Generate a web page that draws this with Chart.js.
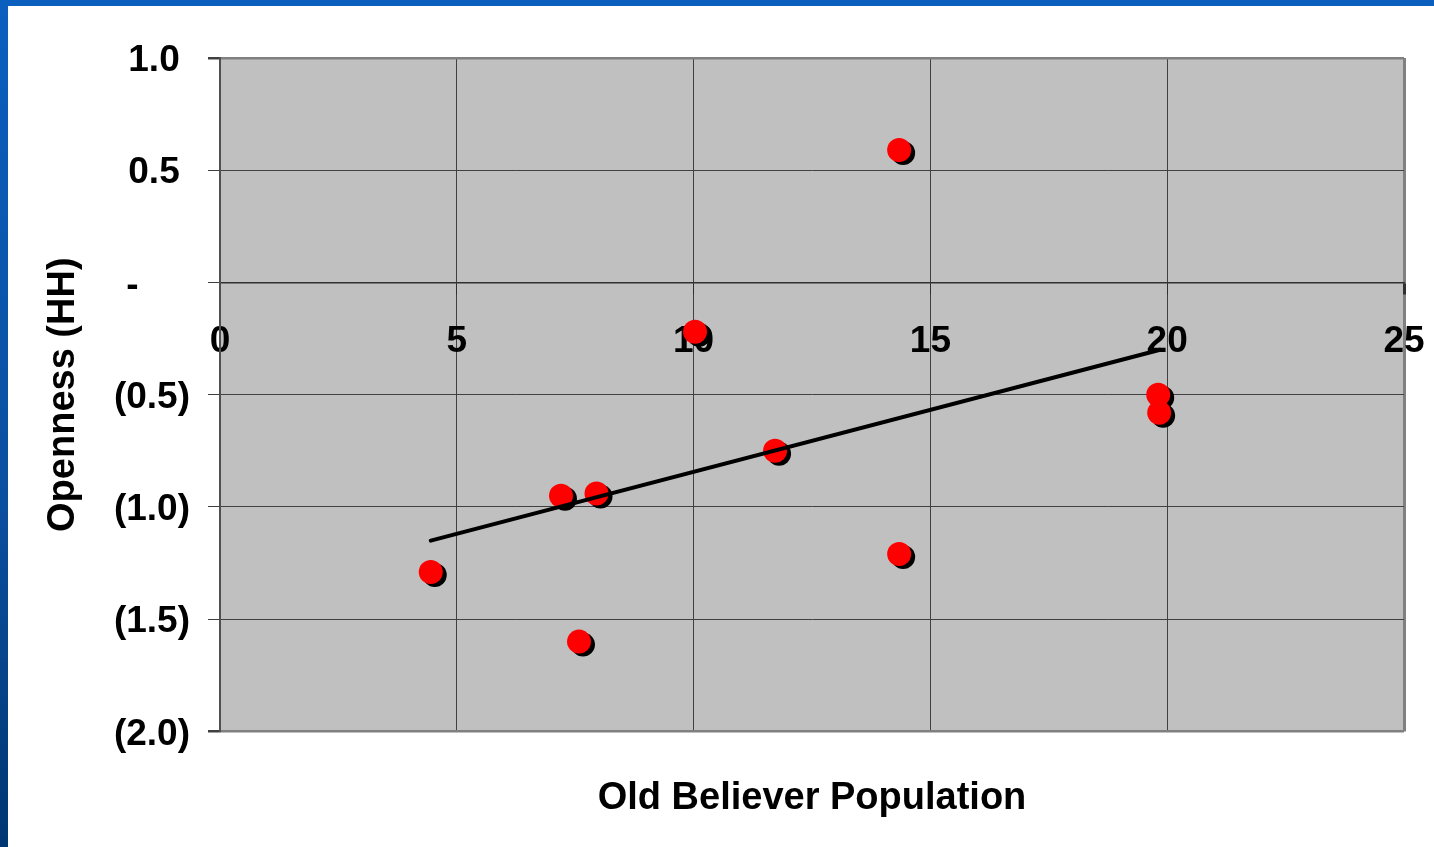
<!DOCTYPE html>
<html>
<head>
<meta charset="utf-8">
<script src="https://cdn.jsdelivr.net/npm/chart.js@4"></script>
<style>
  body { margin: 0; background: #fff; overflow: hidden; }
  #topBar { position: absolute; left: 0; top: 0; width: 1434px; height: 6px; background: #0a5fbf; }
  #leftBar { position: absolute; left: 0; top: 0; width: 8px; height: 847px;
             background: linear-gradient(#0a5fbf, #0b4f9f 60%, #003672); }
  #chart { position: absolute; left: 0; top: 0; }
</style>
</head>
<body>
<div id="topBar"></div>
<div id="leftBar"></div>
<canvas id="chart" width="1434" height="847"></canvas>
<script>
// Old Believer population vs openness
const populationX = [4.45, 7.20, 7.95, 7.58, 10.03, 11.72, 14.34, 14.34, 19.81, 19.83];
const opennessY = [-1.29, -0.95, -0.94, -1.60, -0.22, -0.75, 0.59, -1.21, -0.50, -0.58];

// trend line end points
const trendX = [4.45, 19.85];
const trendY = [-1.15, -0.30];

const xTickLabels = ['0', '5', '10', '15', '20', '25'];
const yTickLabels = ['(2.0)', '(1.5)', '(1.0)', '(0.5)', '-', '0.5', '1.0'];

const xTitle = 'Old Believer Population';
const yTitle = 'Openness (HH)';

const fontFamily = "'Liberation Sans', Arial, sans-serif";
const bold37 = { family: fontFamily, size: 37, weight: 'bold' };
const bold38 = { family: fontFamily, size: 38, weight: 'bold' };

// accounting style labels keep digits lined up with the bracketed ones
function padLabel(label) {
    if (label === '-') return label + '     ';
    if (label.endsWith(')')) return label;
    return label + ' ';
}

// the x axis sits inside the plot, so it should not push the plot edges in
function noSidePadding(scale) {
    scale.paddingLeft = 0;
    scale.paddingRight = 0;
}

// grey plot area
const plotBackground = {
    id: 'plotBackground',
    beforeDraw(chart) {
        const { ctx, chartArea } = chart;
        ctx.save();
        ctx.fillStyle = '#c0c0c0';
        ctx.fillRect(chartArea.left, chartArea.top, chartArea.right - chartArea.left, chartArea.bottom - chartArea.top);
        ctx.restore();
    }
};

// black drop shadow under the red markers
const markerShadow = {
    id: 'markerShadow',
    beforeDatasetDraw(chart, args) {
        if (chart.data.datasets[args.index].label !== 'points') return;
        const ctx = chart.ctx;
        ctx.save();
        ctx.shadowColor = '#000';
        ctx.shadowBlur = 0;
        ctx.shadowOffsetX = 4;
        ctx.shadowOffsetY = 3;
    },
    afterDatasetDraw(chart, args) {
        if (chart.data.datasets[args.index].label !== 'points') return;
        chart.ctx.restore();
    }
};

const pointData = populationX.map((x, i) => ({ x: x, y: opennessY[i] }));
const trendData = trendX.map((x, i) => ({ x: x, y: trendY[i] }));

new Chart(document.getElementById('chart'), {
    type: 'scatter',
    data: {
        datasets: [
            {
                label: 'trend',
                data: trendData,
                showLine: true,
                borderColor: '#000',
                borderWidth: 4,
                borderCapStyle: 'round',
                pointRadius: 0,
                order: 0,
                xAxisID: 'x',
                yAxisID: 'y'
            },
            {
                label: 'points',
                data: pointData,
                backgroundColor: '#ff0000',
                borderWidth: 0,
                pointRadius: 12,
                order: 1,
                xAxisID: 'x',
                yAxisID: 'y'
            }
        ]
    },
    options: {
        responsive: false,
        devicePixelRatio: 1,
        animation: false,
        layout: { padding: { top: 58, right: 30, left: 0, bottom: 0 } },
        plugins: {
            legend: { display: false },
            tooltip: { enabled: false },
            title: {
                display: true,
                text: xTitle,
                position: 'bottom',
                fullSize: false,
                color: '#000',
                font: bold38,
                padding: { top: 44, bottom: 26 }
            }
        },
        scales: {
            x: {
                type: 'linear',
                position: { y: 0 },
                min: 0,
                max: 25,
                afterFit: noSidePadding,
                ticks: { display: false, stepSize: 5 },
                grid: {
                    color: c => c.tick && c.tick.value === 25 ? '#808080' : '#404040',
                    lineWidth: c => c.tick && c.tick.value === 25 ? 3 : 1,
                    tickColor: '#303030',
                    tickLength: 11
                },
                border: { display: true, color: '#303030', width: 1.5 }
            },
            xLabels: {
                type: 'linear',
                axis: 'x',
                position: { y: 0 },
                min: 0,
                max: 25,
                z: 1,
                afterFit: noSidePadding,
                grid: { display: false, drawTicks: false },
                border: { display: false },
                ticks: {
                    stepSize: 5,
                    maxRotation: 0,
                    padding: 37,
                    color: '#000',
                    font: bold37,
                    callback: (v, i) => xTickLabels[i]
                }
            },
            y: {
                type: 'linear',
                position: 'left',
                min: -2,
                max: 1,
                afterFit(scale) { scale.width = 220; },
                ticks: {
                    stepSize: 0.5,
                    padding: 18,
                    labelOffset: 3,
                    color: '#000',
                    font: bold37,
                    callback: (v, i) => padLabel(yTickLabels[i])
                },
                grid: {
                    color: c => c.tick && (c.tick.value === 1 || c.tick.value === -2) ? '#808080' : '#404040',
                    lineWidth: c => c.tick && (c.tick.value === 1 || c.tick.value === -2) ? 2.5 : 1,
                    tickColor: '#404040',
                    tickLength: 12
                },
                border: { display: true, color: '#505050', width: 2 },
                title: {
                    display: true,
                    text: yTitle,
                    color: '#000',
                    font: bold38,
                    padding: { top: 41, bottom: 0 }
                }
            }
        }
    },
    plugins: [plotBackground, markerShadow]
});
</script>
</body>
</html>
